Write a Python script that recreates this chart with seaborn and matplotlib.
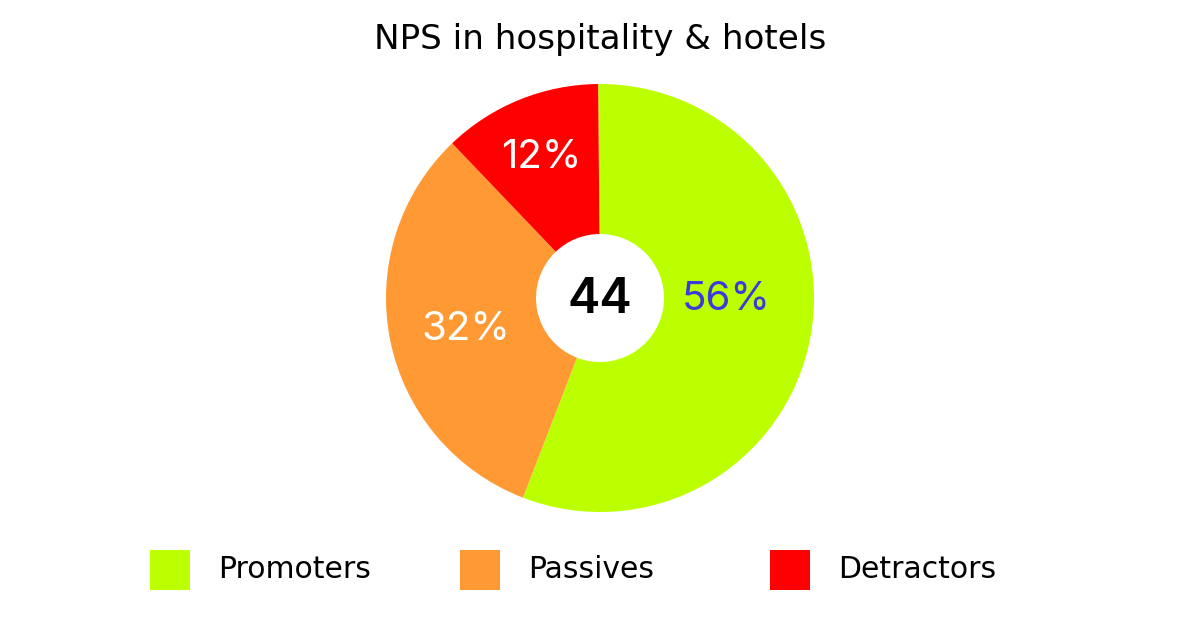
import matplotlib
matplotlib.use("Agg")
import matplotlib.pyplot as plt
import matplotlib.patches as mpatches
import seaborn as sns

categories = ["Promoters", "Passives", "Detractors"]
shares = [56, 32, 12]
nps_score = 44
title = "NPS in hospitality & hotels"
colors = ["#BBFF00", "#FF9933", "#FF0000"]
label_colors = ["#3A3ADD", "#FFFFFF", "#FFFFFF"]

sns.set_theme(style="white")
plt.rcParams["font.family"] = ["Inter", "DejaVu Sans"]

W, H = 1200, 630
fig = plt.figure(figsize=(12, 6.3), dpi=100)
fig.patch.set_facecolor("white")

cx, cy, R = 600, 298, 214
ax = fig.add_axes([(cx - R) / W, (H - cy - R) / H, 2 * R / W, 2 * R / H])

hole = 64 / R
wedges, _ = ax.pie(shares, colors=sns.color_palette(colors), startangle=90.5,
                   counterclock=False, radius=1,
                   wedgeprops=dict(width=1 - hole, linewidth=0))
ax.set_xlim(-1, 1)
ax.set_ylim(-1, 1)
ax.set_aspect("equal")
ax.axis("off")

# label pixel positions (offset from centre)
label_pos = [(126, -2), (-134, -32), (-59, 140)]
for v, (dx, dy), c in zip(shares, label_pos, label_colors):
    ax.text(dx / R, dy / R, f"{v}%", ha="center", va="center",
            fontsize=29, color=c)

ax.text(0, -0.01, str(nps_score), ha="center", va="center", fontsize=35,
        color="black", fontweight="semibold")

fig.text(0.5, (H - 39) / H, title, ha="center", va="center", fontsize=24.6,
         color="black", family=["DejaVu Sans"])

# legend
sq_x = [150, 460, 770]
sq, ly = 40, 570
for x, lab, c in zip(sq_x, categories, colors):
    fig.patches.append(mpatches.Rectangle((x / W, (H - ly - sq / 2) / H), sq / W, sq / H,
                                          transform=fig.transFigure, facecolor=c,
                                          edgecolor="none"))
    fig.text((x + 68) / W, (H - ly) / H, lab, ha="left", va="center",
             fontsize=21.5, color="black", family=["DejaVu Sans"])

fig.savefig("out.png", dpi=100, facecolor="white")
